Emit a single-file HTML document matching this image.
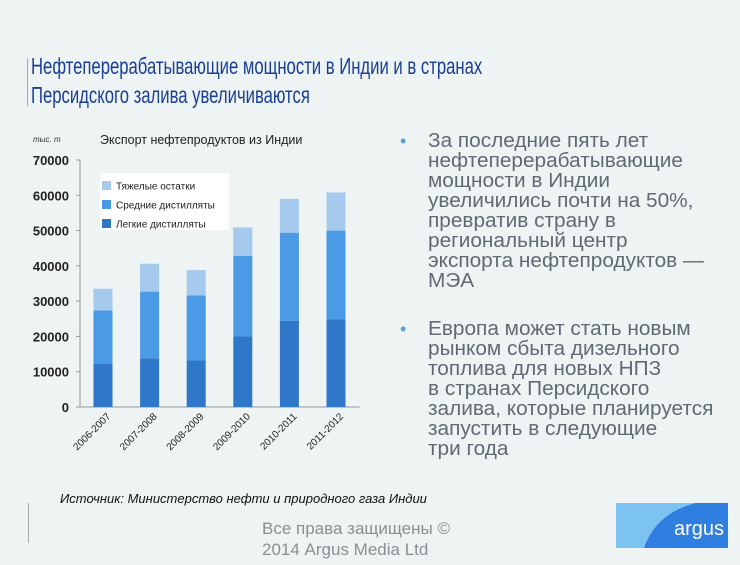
<!DOCTYPE html>
<html><head><meta charset="utf-8"><style>
body{margin:0;width:740px;height:565px;background:#eef3f3;font-family:"Liberation Sans","Noto Sans CJK SC",sans-serif;position:relative;overflow:hidden}
.abs{position:absolute}
#title{left:31px;top:52px;color:#1b3f96;font-size:23px;line-height:29px;transform:scaleX(0.725);transform-origin:0 0;white-space:nowrap}
.bl{left:428px;color:#5f6a72;font-size:20px;line-height:20px;white-space:nowrap;transform:scaleX(1.04);transform-origin:0 0}
.dot{left:400px;color:#5f9fd6;font-size:18px}
</style></head><body>
<div class="abs" style="left:27px;top:58px;width:1px;height:48px;background:#aaa"></div>
<div id="title" class="abs">Нефтеперерабатывающие мощности в Индии и в странах<br>Персидского залива увеличиваются</div>
<div class="abs dot" style="top:131px">•</div>
<div class="abs bl" style="top:131px">За последние пять лет<br>нефтеперерабатывающие<br>мощности в Индии<br>увеличились почти на 50%,<br>превратив страну в<br>региональный центр<br>экспорта нефтепродуктов —<br>МЭА</div>
<div class="abs dot" style="top:319px">•</div>
<div class="abs bl" style="top:319px">Европа может стать новым<br>рынком сбыта дизельного<br>топлива для новых НПЗ<br>в странах Персидского<br>залива, которые планируется<br>запустить в следующие<br>три года</div>
<svg class="abs" style="left:0;top:0" width="740" height="565">
<text x="33" y="142" font-size="8" font-style="italic" fill="#333">тыс. т</text>
<text x="100" y="144" font-size="12.5" fill="#222">Экспорт нефтепродуктов из Индии</text>
<g id="axes"></g><g id="bars"></g>
<rect x="100" y="173" width="129" height="57" fill="#fff"/>
<g id="legend"></g>
<text x="60" y="503" font-size="13" font-style="italic" fill="#111">Источник: Министерство нефти и природного газа Индии</text>
</svg>
<div class="abs" style="left:28px;top:503px;width:1px;height:40px;background:#aaa"></div>
<div class="abs" style="left:262px;top:518px;color:#8a8f92;font-size:17px;line-height:21px">Все права защищены ©<br>2014 Argus Media Ltd</div>
<svg class="abs" style="left:616px;top:503px" width="112" height="45">
<rect width="112" height="45" fill="#2f7fe0"/><path d="M0 0H80Q40 10 28 45H0Z" fill="#7cc3f2"/>
<text x="108" y="32" text-anchor="end" font-size="20" fill="#fff">argus</text></svg>
<script>
const categories=["2006-2007","2007-2008","2008-2009","2009-2010","2010-2011","2011-2012"];
const light=[12200,13800,13200,20000,24400,24800];
const middle=[15200,18900,18400,22800,25000,25200];
const heavy=[6100,7900,7200,8100,9600,10800];
const yTicks=[0,10000,20000,30000,40000,50000,60000,70000];
const seriesNames=["Тяжелые остатки","Средние дистилляты","Легкие дистилляты"];
const NS="http://www.w3.org/2000/svg";
const y0=407,yTop=160,x0=80,step=46.6,bw=19;
const Y=v=>y0-(v/70000)*(y0-yTop);
const X=i=>x0+23+i*step;
function mk(t,a,p){const e=document.createElementNS(NS,t);for(const k in a)e.setAttribute(k,a[k]);p.appendChild(e);return e;}
const ax=document.getElementById('axes'),bg=document.getElementById('bars'),lg=document.getElementById('legend');
const yl=mk('line',{x1:x0,x2:x0,y1:yTop,y2:y0,stroke:'#999'},ax);


const xl=mk('line',{x1:x0,x2:x0+6*step,y1:y0,y2:y0,stroke:'#999'},ax);


yTicks.forEach(v=>{const t=mk('text',{x:69,y:Y(v)+5,'text-anchor':'end','font-size':13,'font-weight':'bold',fill:'#222'},ax);t.textContent=v;


mk('line',{x1:x0-4,x2:x0,y1:Y(v),y2:Y(v),stroke:'#999'},ax);});
const cols=['#2f77c8','#4a9ae6','#a6c9ee'];
categories.forEach((c,i)=>{let b=0;[light,middle,heavy].forEach((s,k)=>{const r=mk('rect',{x:X(i)-bw/2,y:Y(b+s[i]),width:bw,height:Y(b)-Y(b+s[i]),fill:cols[k]},bg);

b+=s[i];});
const t=mk('text',{x:X(i)+8,y:417,'text-anchor':'end','font-size':10,fill:'#222',transform:`rotate(-45 ${X(i)+8} 417)`},ax);t.textContent=c;

});
seriesNames.forEach((n,k)=>{const yy=181+k*19;mk('rect',{x:102,y:yy,width:9,height:9,fill:cols[2-k]},lg);
const t=mk('text',{x:116,y:yy+8.5,'font-size':10,fill:'#222'},lg);t.textContent=n;

});
</script>
</body></html>
